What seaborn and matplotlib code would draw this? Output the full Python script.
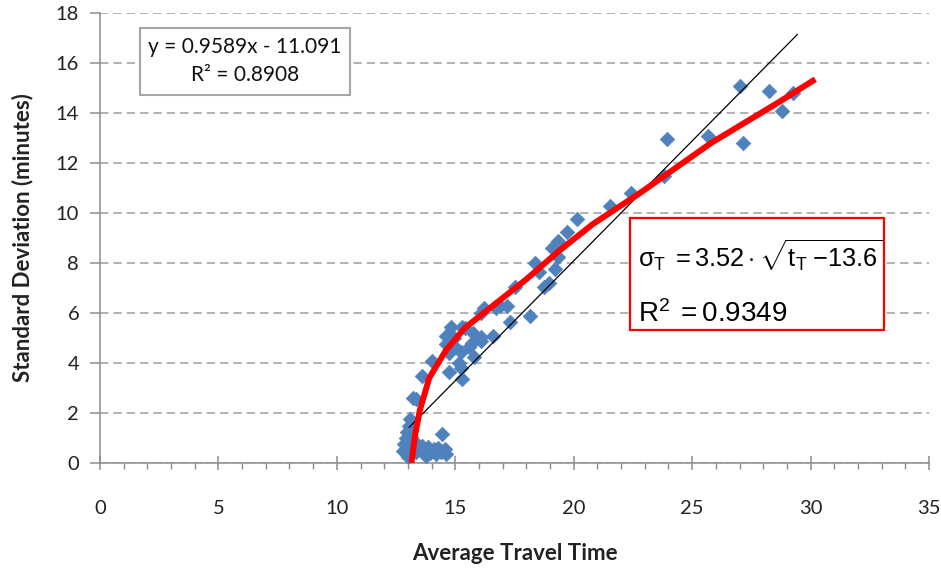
import matplotlib
matplotlib.use("Agg")
import matplotlib.pyplot as plt
import pandas as pd
import seaborn as sns
from matplotlib.patches import Rectangle
from matplotlib.ticker import MultipleLocator

# ---- data ----
travel_time = [12.8, 12.85, 12.9, 12.95, 13.05, 13.1, 13.0, 13.2, 13.35, 13.5, 13.7, 13.85, 13.95,
               14.1, 14.25, 14.4, 14.55, 14.6, 14.2, 13.6, 13.3, 13.15, 14.45, 13.0, 13.75,
               13.2, 13.35, 13.6, 14.0, 14.75, 15.25, 15.3, 15.15, 14.75, 15.25, 15.8, 14.6,
               15.0, 15.6, 14.6, 14.95, 15.75, 16.1, 14.8, 15.3, 15.4, 16.1, 16.2, 16.7, 16.9,
               17.2, 17.3, 16.6, 16.1, 15.7, 18.15,
               17.5, 18.75, 18.95, 18.35, 18.55, 19.2, 19.35, 19.1, 19.35, 19.7, 20.15, 21.55,
               22.4, 23.8, 23.95, 25.65, 27.15, 27.0, 28.25, 28.8, 29.25]
std_dev = [0.5, 0.75, 1.0, 1.25, 1.5, 1.75, 0.4, 0.55, 0.45, 0.6, 0.5, 0.65, 0.4,
           0.55, 0.6, 0.45, 0.55, 0.35, 0.35, 0.7, 0.85, 1.05, 1.15, 0.25, 0.3,
           2.6, 2.55, 3.5, 4.1, 3.65, 3.8, 3.35, 4.0, 4.4, 4.45, 4.25, 4.75,
           4.65, 4.65, 5.1, 5.0, 5.2, 4.9, 5.45, 5.45, 5.4, 6.0, 6.2, 6.2, 6.3,
           6.3, 5.65, 5.1, 5.05, 4.8, 5.9,
           7.05, 7.05, 7.2, 8.0, 7.65, 7.75, 8.25, 8.6, 8.9, 9.25, 9.75, 10.3,
           10.8, 11.5, 12.95, 13.1, 12.8, 15.1, 14.9, 14.1, 14.8]

# square-root fit curve (red)
fit_x = [13.15, 13.3, 13.5, 13.9, 14.6, 15.4, 16.6, 18.0, 19.4, 20.8, 22.8, 25.8, 28.6, 30.2]
fit_y = [0.0, 1.1, 2.1, 3.4, 4.5, 5.4, 6.3, 7.35, 8.5, 9.55, 10.8, 12.8, 14.4, 15.35]

# linear trendline (black)
lin_slope = 0.9589
lin_intercept = -11.091
lin_x_range = [13.05, 29.45]

x_ticks = [0, 5, 10, 15, 20, 25, 30, 35]
y_ticks = [0, 2, 4, 6, 8, 10, 12, 14, 16, 18]

eq_linear = "y = 0.9589x - 11.091"
r2_linear = "R² = 0.8908"
eq_sqrt = r"$\sigma_{\mathrm{T}}\;=3.52\cdot\sqrt{\mathrm{t}_{\mathrm{T}}\;{-}13.6}$"
r2_sqrt = r"$\mathrm{R}^{2}\;=0.9349$"

# ---- styling ----
sns.set_theme(style="white")
plt.rcParams['font.family'] = ['Lato', 'DejaVu Sans']
plt.rcParams['mathtext.fontset'] = 'custom'
plt.rcParams['mathtext.rm'] = 'Liberation Sans'
plt.rcParams['mathtext.it'] = 'Liberation Sans'
plt.rcParams['mathtext.bf'] = 'Liberation Sans:bold'

W, H = 941, 570
fig = plt.figure(figsize=(W / 100, H / 100), dpi=100)
ax = fig.add_axes([100 / W, 1 - 463 / H, (929 - 100) / W, (463 - 13) / H])

pts = pd.DataFrame({"t": travel_time, "s": std_dev})
sns.scatterplot(data=pts, x="t", y="s", marker="D", s=55, color="#4F81BD",
                edgecolor="#4F81BD", linewidth=0.5, ax=ax, zorder=3)

lin_df = pd.DataFrame({"x": lin_x_range,
                       "y": [lin_slope * v + lin_intercept for v in lin_x_range]})
sns.lineplot(data=lin_df, x="x", y="y", color="black", linewidth=0.9, ax=ax,
             estimator=None, sort=False, zorder=4)

fit_df = pd.DataFrame({"x": fit_x, "y": fit_y})
sns.lineplot(data=fit_df, x="x", y="y", color="#FF0000", linewidth=4.3, ax=ax,
             estimator=None, sort=False, zorder=5, solid_capstyle="butt")

ax.set_xlim(0, 35)
ax.set_ylim(0, 18)
ax.set_xticks(x_ticks)
ax.set_yticks(y_ticks)
ax.xaxis.set_minor_locator(MultipleLocator(1))
ax.set_xticklabels([str(v) for v in x_ticks])
ax.set_yticklabels([str(v) for v in y_ticks])

ax.yaxis.grid(True, linestyle=(0, (5, 3)), color="#A6A6A6", linewidth=1.2)
ax.xaxis.grid(False)
ax.set_axisbelow(True)

for side in ["top", "right"]:
    ax.spines[side].set_visible(False)
for side in ["left", "bottom"]:
    ax.spines[side].set_color("#8C8C8C")
    ax.spines[side].set_linewidth(1.1)

ax.tick_params(axis="x", which="major", direction="inout", length=10, width=1.1,
               color="#8C8C8C", pad=22, labelsize=14.5, labelcolor="#222222", bottom=True)
ax.tick_params(axis="x", which="minor", direction="out", length=4, width=1.0,
               color="#8C8C8C", bottom=True)
ax.tick_params(axis="y", which="major", direction="out", length=7, width=1.1,
               color="#8C8C8C", pad=8, labelsize=14.5, labelcolor="#222222", left=True)

ax.set_xlabel("Average Travel Time", fontsize=16, fontweight="bold", color="#222222",
              labelpad=18)
ax.set_ylabel("Standard Deviation (minutes)", fontsize=16, fontweight="bold",
              color="#222222", labelpad=16)

# linear equation box
fig.patches.append(Rectangle((140 / W, 1 - 95 / H), 210 / W, 67 / H,
                             transform=fig.transFigure, facecolor="white",
                             edgecolor="#A6A6A6", linewidth=1.5, zorder=6))
fig.text(245 / W, 1 - 47 / H, eq_linear, ha="center", va="center", fontsize=15,
         color="#111111", zorder=7)
fig.text(245 / W, 1 - 75 / H, r2_linear, ha="center", va="center", fontsize=15,
         color="#111111", zorder=7)

# square-root fit box
fig.patches.append(Rectangle((630 / W, 1 - 330 / H), 254 / W, 112 / H,
                             transform=fig.transFigure, facecolor="white",
                             edgecolor="#FF0000", linewidth=1.6, zorder=6))
fig.text(638 / W, 1 - 256 / H, eq_sqrt, ha="left", va="center", fontsize=18.3,
         color="black", zorder=7)
fig.text(638 / W, 1 - 313 / H, r2_sqrt, ha="left", va="center", fontsize=20,
         color="black", zorder=7)

fig.savefig("out.png", dpi=100)
